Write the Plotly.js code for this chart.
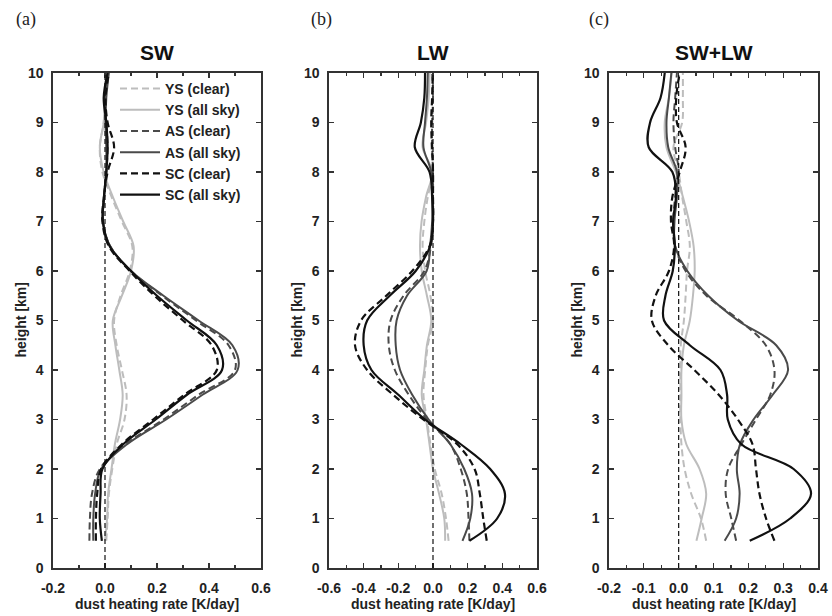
<!DOCTYPE html>
<html>
<head>
<meta charset="utf-8">
<script src="https://cdn.plot.ly/plotly-3.0.1.min.js"></script>
<style>html,body{margin:0;padding:0;background:#fff;}#chart{width:832px;height:616px;}</style>
</head>
<body>
<div id="chart"></div>
<script>
// heights [km]
const heights = [0.55,1,1.5,2,2.5,3,3.5,4,4.5,5,5.5,6,6.5,7,7.5,8,8.5,9,9.5,10];
const seriesNames = ["YS (clear)","YS (all sky)","AS (clear)","AS (all sky)","SC (clear)","SC (all sky)"];
const panelTitles = ["SW","LW","SW+LW"];
const panelLabels = ["(a)","(b)","(c)"];

// tick values / labels
const xTickValsA = [-0.2,0.0,0.2,0.4,0.6];
const xTickTextA = ["-0.2","0.0","0.2","0.4","0.6"];
const xTickValsB = [-0.6,-0.4,-0.2,0.0,0.2,0.4,0.6];
const xTickTextB = ["-0.6","-0.4","-0.2","0.0","0.2","0.4","0.6"];
const xTickValsC = [-0.2,-0.1,0.0,0.1,0.2,0.3,0.4];
const xTickTextC = ["-0.2","-0.1","0.0","0.1","0.2","0.3","0.4"];
const yTickVals = [0,1,2,3,4,5,6,7,8,9,10];
const yTickText = ["0","1","2","3","4","5","6","7","8","9","10"];

// (a) SW heating rate [K/day]
const swYSclear  = [0.005,0.01,0.015,0.028,0.045,0.075,0.083,0.065,0.045,0.035,0.06,0.095,0.105,0.065,0.025,-0.01,-0.02,-0.005,0.0,0.01];
const swYSall    = [0.0,0.008,0.012,0.025,0.038,0.058,0.068,0.055,0.04,0.03,0.065,0.1,0.11,0.07,0.03,-0.005,-0.02,-0.005,0.0,0.008];
const swASclear  = [-0.06,-0.058,-0.05,-0.02,0.08,0.225,0.36,0.5,0.475,0.35,0.22,0.1,0.02,-0.008,-0.004,0.005,0.01,0.005,0.0,0.01];
const swASall    = [-0.045,-0.045,-0.038,-0.015,0.085,0.235,0.375,0.51,0.49,0.36,0.225,0.1,0.02,-0.008,-0.003,0.005,0.005,0.002,0.005,0.015];
const swSCclear  = [-0.035,-0.035,-0.03,-0.015,0.065,0.185,0.305,0.43,0.41,0.3,0.19,0.095,0.015,-0.01,-0.004,0.01,0.035,0.01,0.002,0.015];
const swSCall    = [-0.012,-0.02,-0.017,-0.01,0.07,0.195,0.315,0.45,0.43,0.315,0.2,0.1,0.018,-0.008,-0.004,0.005,0.01,0.005,-0.005,0.01];

// (b) LW heating rate [K/day]
const lwYSclear  = [0.09,0.075,0.05,0.01,-0.015,-0.035,-0.055,-0.045,-0.03,0.0,-0.015,-0.045,-0.06,-0.05,-0.03,0.0,-0.01,-0.01,-0.005,-0.005];
const lwYSall    = [0.07,0.065,0.035,0.0,-0.02,-0.04,-0.065,-0.05,-0.035,-0.01,-0.035,-0.065,-0.075,-0.066,-0.04,-0.005,-0.06,-0.04,-0.025,-0.02];
const lwASclear  = [0.21,0.205,0.195,0.16,0.1,-0.035,-0.14,-0.22,-0.255,-0.245,-0.17,-0.05,-0.012,0.0,0.0,0.0,-0.005,-0.005,0.0,-0.005];
const lwASall    = [0.17,0.215,0.225,0.18,0.1,-0.025,-0.12,-0.19,-0.215,-0.21,-0.15,-0.037,-0.017,-0.005,-0.005,-0.01,-0.055,-0.046,-0.035,-0.03];
const lwSCclear  = [0.31,0.29,0.27,0.24,0.14,-0.056,-0.23,-0.38,-0.45,-0.415,-0.27,-0.12,-0.02,0.0,0.0,0.0,-0.005,-0.01,-0.005,0.0];
const lwSCall    = [0.21,0.37,0.415,0.33,0.16,-0.046,-0.2,-0.355,-0.4,-0.38,-0.25,-0.1,-0.017,0.0,-0.005,-0.02,-0.105,-0.07,-0.05,-0.046];

// (c) SW+LW heating rate [K/day]
const netYSclear = [0.079,0.064,0.036,0.017,0.008,0.005,0.005,0.005,0.006,0.015,0.02,0.024,0.032,0.022,0.01,0.0,-0.015,0.01,0.012,0.012];
const netYSall   = [0.051,0.066,0.079,0.06,0.022,0.008,0.008,0.008,0.015,0.032,0.041,0.046,0.043,0.03,0.012,-0.008,-0.035,-0.04,-0.028,-0.02];
const netASclear = [0.165,0.151,0.135,0.142,0.18,0.222,0.263,0.275,0.25,0.175,0.08,0.02,-0.01,-0.015,-0.01,0.0,-0.01,-0.015,-0.01,-0.005];
const netASall   = [0.132,0.165,0.175,0.167,0.176,0.215,0.27,0.314,0.28,0.17,0.085,0.025,-0.01,-0.012,-0.005,-0.005,-0.03,-0.035,-0.028,-0.021];
const netSCclear = [0.275,0.251,0.232,0.222,0.212,0.17,0.115,0.045,-0.03,-0.077,-0.066,-0.028,-0.013,-0.022,-0.018,0.003,0.02,-0.005,-0.007,0.003];
const netSCall   = [0.204,0.32,0.38,0.33,0.18,0.141,0.139,0.12,0.032,-0.042,-0.038,-0.017,-0.011,-0.016,-0.008,-0.018,-0.086,-0.082,-0.052,-0.04];

const panels = [
  [swYSclear, swYSall, swASclear, swASall, swSCclear, swSCall],
  [lwYSclear, lwYSall, lwASclear, lwASall, lwSCclear, lwSCall],
  [netYSclear, netYSall, netASclear, netASall, netSCclear, netSCall]
];
const xTickVals = [xTickValsA, xTickValsB, xTickValsC];
const xTickText = [xTickTextA, xTickTextB, xTickTextC];
const xRanges = [[-0.2,0.6],[-0.6,0.6],[-0.2,0.4]];
const xMinor = [0.1,0.1,0.05];

const colors = ["#bdbdbd","#bdbdbd","#4a4a4a","#4a4a4a","#111111","#111111"];
const dashes = ["7px,4px","solid","7px,4px","solid","7px,4px","solid"];
const widths = [2,2,2,2,2.2,2.2];

const W = 832, H = 616;
const xPix = [[53,261],[329,537],[609,818]];
const yTop = 73, yBot = 568;
const SANS = "Liberation Sans, Arial, sans-serif";

const traces = [];
panels.forEach((p, pi) => {
  const sfx = pi === 0 ? "" : String(pi + 1);
  p.forEach((vals, si) => {
    traces.push({
      type: "scatter", mode: "lines",
      x: vals, y: heights,
      xaxis: "x" + sfx, yaxis: "y" + sfx,
      name: "<b>" + seriesNames[si] + "</b>",
      showlegend: pi === 0,
      line: {color: colors[si], width: widths[si], dash: dashes[si], shape: "spline", smoothing: 1},
      hoverinfo: "skip"
    });
  });
});

const tickFont = {family: SANS, size: 14, color: "#222", weight: 700};
const bold = s => s.map(t => "<b>" + t + "</b>");
const layout = {
  width: W, height: H,
  margin: {l: 0, r: 0, t: 0, b: 0},
  paper_bgcolor: "#fff", plot_bgcolor: "#fff",
  showlegend: true,
  legend: {
    x: 115 / W, y: 1 - 73 / H, xanchor: "left", yanchor: "top",
    bgcolor: "rgba(0,0,0,0)", borderwidth: 0,
    font: {family: SANS, size: 14, color: "#222", weight: 700},
    itemwidth: 40
  },
  shapes: [],
  annotations: []
};

for (let pi = 0; pi < 3; pi++) {
  const sfx = pi === 0 ? "" : String(pi + 1);
  layout["xaxis" + sfx] = {
    domain: [xPix[pi][0] / W, xPix[pi][1] / W],
    range: xRanges[pi], tickmode: "array",
    tickvals: xTickVals[pi], ticktext: bold(xTickText[pi]),
    anchor: "y" + sfx,
    ticks: "inside", ticklen: 5, tickwidth: 1.3, tickcolor: "#333",
    ticklabelstandoff: 7,
    minor: {dtick: xMinor[pi], tick0: 0, ticks: "inside", ticklen: 3, tickcolor: "#333", showgrid: false},
    showline: true, linewidth: 1.6, linecolor: "#333", mirror: "ticks",
    showgrid: false, zeroline: false,
    tickfont: tickFont, fixedrange: true
  };
  layout["yaxis" + sfx] = {
    domain: [1 - yBot / H, 1 - yTop / H],
    range: [0, 10], tickmode: "array",
    tickvals: yTickVals, ticktext: bold(yTickText),
    anchor: "x" + sfx,
    ticks: "inside", ticklen: 5, tickwidth: 1.3, tickcolor: "#333",
    ticklabelstandoff: 5,
    showline: true, linewidth: 1.6, linecolor: "#333", mirror: "ticks",
    showgrid: false, zeroline: false,
    tickfont: tickFont, fixedrange: true
  };

  // zero reference line
  layout.shapes.push({
    type: "line", xref: "x" + sfx, yref: "y" + sfx + " domain",
    x0: 0, x1: 0, y0: 0, y1: 1,
    line: {color: "#111", width: 1.2, dash: "5px,3px"}
  });

  const cx = (xPix[pi][0] + xPix[pi][1]) / 2;
  layout.annotations.push({
    text: "<b>" + panelTitles[pi] + "</b>", xref: "paper", yref: "paper",
    x: cx / W, y: 1 - 53 / H, xanchor: "center", yanchor: "middle", showarrow: false,
    font: {family: SANS, size: 21, color: "#111"}
  });
  const lx = [26, 321, 599][pi];
  layout.annotations.push({
    text: panelLabels[pi], xref: "paper", yref: "paper",
    x: lx / W, y: 1 - 19 / H, xanchor: "center", yanchor: "middle", showarrow: false,
    font: {family: "Liberation Serif, Times New Roman, serif", size: 18, color: "#222"}
  });
  layout.annotations.push({
    text: "<b>dust heating rate [K/day]</b>", xref: "paper", yref: "paper",
    x: cx / W, y: 1 - 604 / H, xanchor: "center", yanchor: "middle", showarrow: false,
    font: {family: SANS, size: 14, color: "#222"}
  });
  const yx = [20, 296, 576][pi];
  layout.annotations.push({
    text: "<b>height [km]</b>", xref: "paper", yref: "paper", textangle: -90,
    x: yx / W, y: 1 - ((yTop + yBot) / 2) / H, xanchor: "center", yanchor: "middle", showarrow: false,
    font: {family: SANS, size: 14, color: "#222"}
  });
}

Plotly.newPlot("chart", traces, layout, {displayModeBar: false, staticPlot: true});
</script>
</body>
</html>
